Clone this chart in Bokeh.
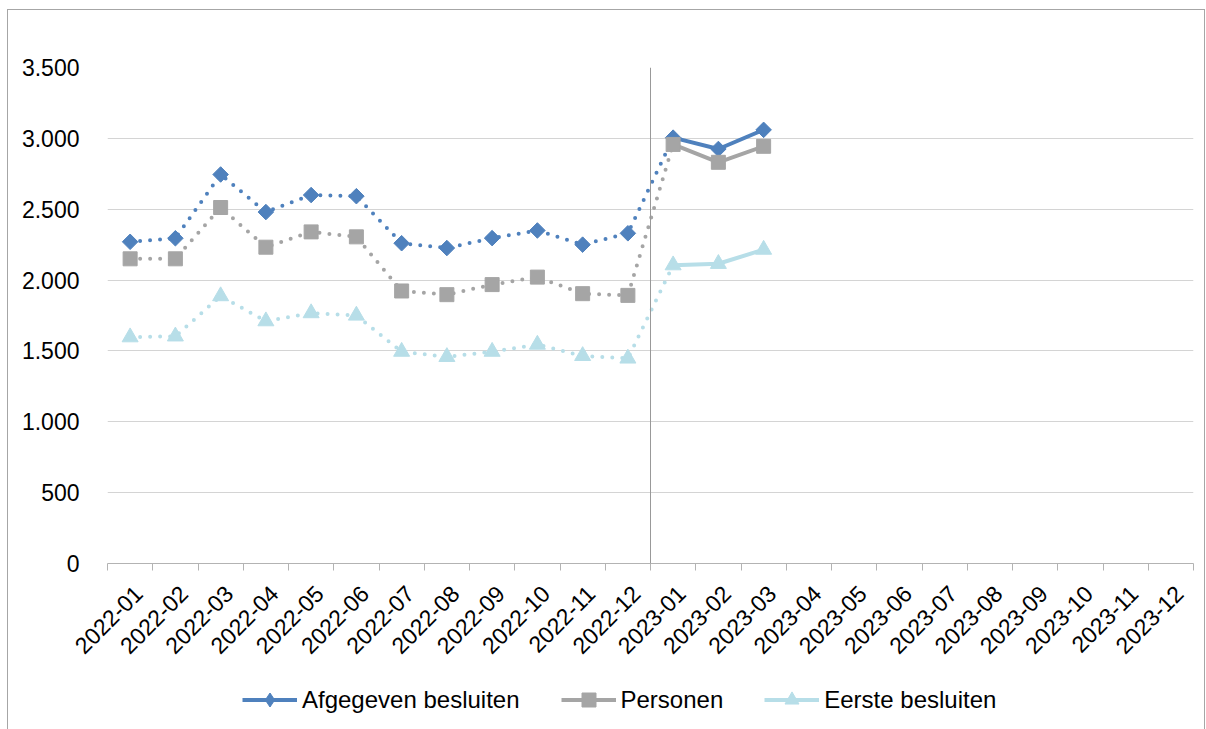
import math
from bokeh.plotting import figure
from bokeh.layouts import column
from bokeh.models import (Range1d, FixedTicker, Span, Legend, LegendItem)
from bokeh.embed import file_html
from bokeh.resources import INLINE

months = ["2022-01", "2022-02", "2022-03", "2022-04", "2022-05", "2022-06",
          "2022-07", "2022-08", "2022-09", "2022-10", "2022-11", "2022-12",
          "2023-01", "2023-02", "2023-03", "2023-04", "2023-05", "2023-06",
          "2023-07", "2023-08", "2023-09", "2023-10", "2023-11", "2023-12"]

afgegeven = [2270, 2295, 2745, 2480, 2600, 2592, 2260, 2226, 2296, 2350, 2250, 2330,
             3005, 2925, 3060]
personen = [2150, 2150, 2512, 2232, 2340, 2305, 1923, 1897, 1968, 2021, 1904, 1892,
            2957, 2831, 2944]
eerste = [1597, 1603, 1887, 1710, 1767, 1750, 1495, 1458, 1495, 1545, 1465, 1447,
          2105, 2115, 2215]

series = [
    ("Afgegeven besluiten", afgegeven, "#4F81BD", "diamond"),
    ("Personen", personen, "#A5A5A5", "square"),
    ("Eerste besluiten", eerste, "#B7DEE8", "triangle"),
]

FONT = "Liberation Sans"
FS = "23px"

n = len(months)
x_pos = [i + 0.5 for i in range(n)]
label_pos = [i + 0.68 for i in range(n)]

p = figure(width=1196, height=665, output_backend="svg", toolbar_location=None,
           x_range=Range1d(0, n), y_range=Range1d(0, 3500),
           min_border_left=99, min_border_right=11, min_border_top=57,
           min_border_bottom=112)
p.outline_line_color = None
p.background_fill_color = "white"
p.border_fill_color = "white"

# axes
yt = list(range(0, 3501, 500))
p.yaxis.ticker = FixedTicker(ticks=yt)
p.yaxis.major_label_overrides = {v: (f"{v:,}".replace(",", ".")) for v in yt}
p.yaxis.axis_line_color = None
p.yaxis.major_tick_line_color = None
p.yaxis.minor_tick_line_color = None
p.yaxis.major_label_standoff = 22
p.yaxis.major_label_text_font = FONT
p.yaxis.major_label_text_font_size = FS
p.yaxis.major_label_text_color = "#000000"

p.xaxis.ticker = FixedTicker(ticks=label_pos, minor_ticks=list(range(n + 1)))
p.xaxis.major_label_overrides = {x: m for x, m in zip(label_pos, months)}
p.xaxis.major_label_orientation = math.pi / 4
p.xaxis.axis_line_color = "#B3B3B3"
p.xaxis.major_tick_line_color = None
p.xaxis.major_tick_out = 7
p.xaxis.major_tick_in = 0
p.xaxis.minor_tick_line_color = "#B3B3B3"
p.xaxis.minor_tick_out = 7
p.xaxis.minor_tick_in = 0
p.xaxis.major_label_standoff = 19
p.xaxis.major_label_text_font = FONT
p.xaxis.major_label_text_font_size = FS
p.xaxis.major_label_text_color = "#000000"

p.xgrid.visible = False
p.ygrid.ticker = FixedTicker(ticks=yt)
p.ygrid.grid_line_color = "#D4D4D4"
p.ygrid.grid_line_width = 1

p.add_layout(Span(location=12, dimension="height", line_color="#999999", line_width=1))

# legend panel (separate small figure under the chart; its frame aligns with the chart frame)
p2 = figure(width=1196, height=54, output_backend="svg", toolbar_location=None,
            x_range=Range1d(0, 1), y_range=Range1d(0, 1),
            min_border=0, min_border_left=0, min_border_right=0,
            min_border_top=0, min_border_bottom=0)
p2.axis.visible = False
p2.grid.visible = False
p2.outline_line_color = None
p2.background_fill_color = "white"
p2.border_fill_color = "white"

items = []
for name, vals, color, marker in series:
    xs = x_pos[:len(vals)]
    # dotted part: 2022 through first 2023 point
    p.line(xs[:13], vals[:13], line_color=color, line_width=4,
           line_dash="0 10", line_cap="round")
    p.line(xs[12:], vals[12:], line_color=color, line_width=4)
    kw = dict(fill_color=color, line_color=color)
    if marker == "diamond":
        mk = dict(marker="square", angle=math.pi / 4, size=11)
        lmk = dict(marker="diamond", size=16)
    elif marker == "square":
        mk = dict(marker="square", size=14)
        lmk = dict(marker="square", size=14)
    else:
        mk = dict(marker="triangle", size=16)
        lmk = dict(marker="triangle", size=16)
    p.scatter(xs, vals, **mk, **kw)
    # legend-only renderers (same series data, outside the legend panel's range)
    lg_line = p2.line(xs[12:], vals[12:], line_color=color, line_width=4)
    lg_mark = p2.scatter(xs[12:], vals[12:], **lmk, **kw)
    items.append(LegendItem(label=name, renderers=[lg_line, lg_mark]))

legend = Legend(items=items, orientation="horizontal", location=(135, 12),
                label_text_font=FONT, label_text_font_size="24px",
                label_text_color="#000000", glyph_width=55, glyph_height=35,
                label_height=35, label_standoff=5, spacing=41, padding=0,
                margin=0, border_line_color=None, background_fill_alpha=0)
p2.add_layout(legend, "center")

layout = column(p, p2, spacing=0)
layout.styles = {"margin-left": "7px", "margin-top": "9px",
                 "border-left": "1px solid #A6A6A6", "border-top": "1px solid #A6A6A6",
                 "border-right": "1px solid #A6A6A6"}

open("out.html", "w").write(file_html(layout, INLINE))
